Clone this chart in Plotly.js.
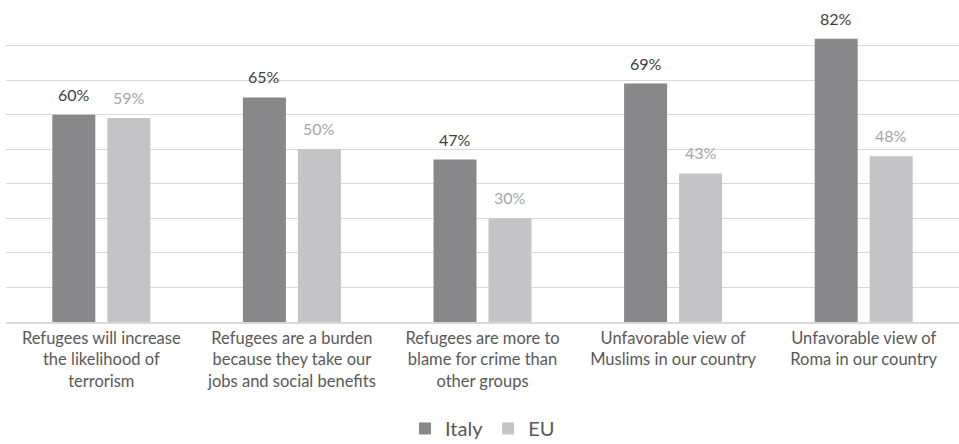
<!DOCTYPE html>
<html>
<head>
<meta charset="utf-8">
<script src="https://cdn.plot.ly/plotly-3.0.1.min.js"></script>
<style>html,body{margin:0;padding:0;background:#fff;}#chart{width:959px;height:444px;}</style>
</head>
<body>
<div id="chart"></div>
<script>
const categories = [
  "Refugees will increase<br>the likelihood of<br>terrorism",
  "Refugees are a burden<br>because they take our<br>jobs and social benefits",
  "Refugees are more to<br>blame for crime than<br>other groups",
  "Unfavorable view of<br>Muslims in our country",
  "Unfavorable view of<br>Roma in our country"
];
const italy = [60, 65, 47, 69, 82];
const eu = [59, 50, 30, 43, 48];

const FONT = "Lato, Open Sans, sans-serif";
const italyColor = "#88888b";
const euColor = "#c4c4c6";

const traces = [
  {type: "bar", name: "Italy", x: categories, y: italy, marker: {color: italyColor},
   hoverinfo: "skip"},
  {type: "bar", name: "EU", x: categories, y: eu, marker: {color: euColor},
   hoverinfo: "skip"}
];

const annotations = [];
categories.forEach((c, i) => {
  annotations.push({x: c, y: italy[i], xref: "x", yref: "y", text: italy[i] + "%",
    showarrow: false, yanchor: "bottom", yshift: 9, xshift: -27.5,
    font: {family: FONT, size: 16, color: "#404040"}});
  annotations.push({x: c, y: eu[i], xref: "x", yref: "y", text: eu[i] + "%",
    showarrow: false, yanchor: "bottom", yshift: 9, xshift: 27.5,
    font: {family: FONT, size: 16, color: "#a6a6a6"}});
});

const layout = {
  width: 959, height: 444,
  margin: {l: 6, r: 0, t: 11, b: 122},
  paper_bgcolor: "#ffffff", plot_bgcolor: "#ffffff",
  barmode: "group", bargap: 0.423, bargroupgap: 0.218,
  showlegend: true,
  legend: {orientation: "h", x: 0.5, xanchor: "center", xref: "paper",
    yref: "container", y: 0.035, yanchor: "middle",
    font: {family: FONT, size: 20, color: "#595959"}, itemwidth: 30},
  xaxis: {type: "category", showgrid: false, showline: true, linecolor: "#d9d9d9", linewidth: 2,
    ticks: "", automargin: false, tickfont: {family: FONT, size: 16.5, color: "#595959"}, fixedrange: true},
  yaxis: {range: [0, 90], dtick: 10, showgrid: true, gridcolor: "#d9d9d9", gridwidth: 1.2,
    showticklabels: false, zeroline: false, ticks: "", automargin: false, fixedrange: true},
  annotations: annotations
};

Plotly.newPlot("chart", traces, layout, {displayModeBar: false, staticPlot: true});
</script>
</body>
</html>
